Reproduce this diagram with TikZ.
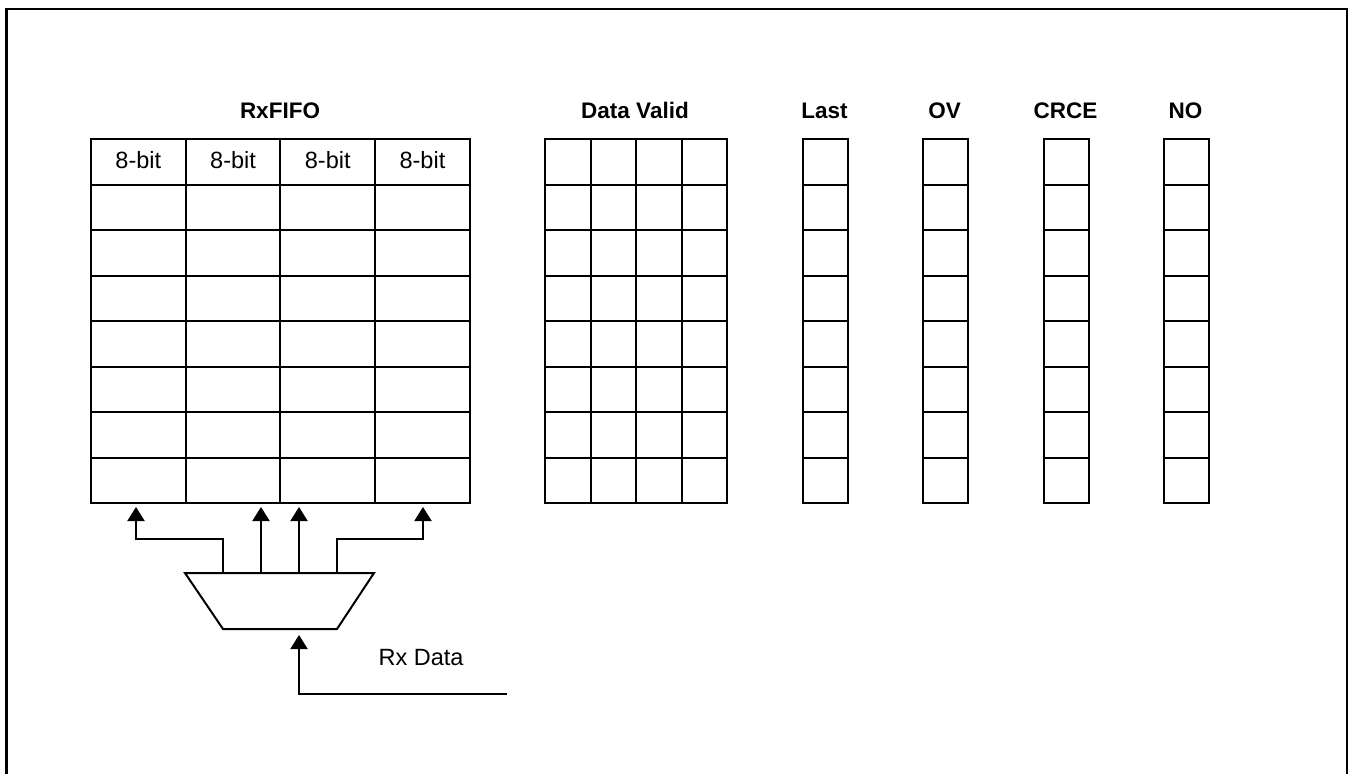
\documentclass[tikz,border=0pt]{standalone}
\usepackage{fontspec}
\setmainfont{Liberation Sans}
\usetikzlibrary{arrows.meta}
\begin{document}
\begin{tikzpicture}[x=1pt,y=-1pt,
  cell/.style={draw,line width=2pt,inner sep=0pt,anchor=north west,minimum height=45.5pt},
  ttl/.style={font=\fontsize{22.5}{26}\selectfont\bfseries,anchor=base,inner sep=0pt},
  lbl/.style={font=\fontsize{23.5}{28}\selectfont,inner sep=0pt,anchor=base},
  wire/.style={line width=2pt},
  arr/.style={wire,-{Triangle[width=17pt,length=14pt]}}]
\useasboundingbox (0,0) rectangle (1348,773);
\clip (0,0) rectangle (1348,773);
\draw[line width=2.8pt] (6.5,9) rectangle (1347.5,800);
% RxFIFO
\foreach \r in {1,...,8}{
  \foreach \c in {1,...,4}{
    \node[cell,minimum width=94.7pt] (f-\r-\c) at ({90+(\c-1)*94.7},{138+(\r-1)*45.5}) {};
  }
}
\foreach \c in {1,...,4}{
  \node[lbl] (b-\c) at ([yshift=-6.7pt]f-1-\c.center) {8-bit};
}
% Data valid
\foreach \r in {1,...,8}{
  \foreach \c in {1,...,4}{
    \node[cell,minimum width=45.5pt] (d-\r-\c) at ({544+(\c-1)*45.5},{138+(\r-1)*45.5}) {};
  }
}
% single columns
\foreach \n/\x in {l/802,o/922,c/1043,n/1163}{
  \foreach \r in {1,...,8}{
    \node[cell,minimum width=45pt] (\n-\r) at (\x,{138+(\r-1)*45.5}) {};
  }
}
% titles
\node[ttl] (t-fifo) at (280,118.3) {RxFIFO};
\node[ttl] (t-dv) at (635,118.3) {Data Valid};
\node[ttl] (t-last) at (824.5,118.3) {Last};
\node[ttl] (t-ov) at (944.5,118.3) {OV};
\node[ttl] (t-crce) at (1065.5,118.3) {CRCE};
\node[ttl] (t-no) at (1185.5,118.3) {NO};
% mux
\coordinate (mtl) at (185,573);
\coordinate (mtr) at (374,573);
\coordinate (mbr) at (337,629);
\coordinate (mbl) at (223,629);
\draw[wire,line join=miter] (mtl) -- (mtr) -- (mbr) -- (mbl) -- cycle;
\coordinate (o1) at (223,573);
\coordinate (o2) at (261,573);
\coordinate (o3) at (299,573);
\coordinate (o4) at (337,573);
\coordinate (a1) at (136,507);
\coordinate (a2) at (261,507);
\coordinate (a3) at (299,507);
\coordinate (a4) at (423,507);
\draw[arr] (o1) -- ++(0,-34) -| (a1);
\draw[arr] (o2) -- (a2);
\draw[arr] (o3) -- (a3);
\draw[arr] (o4) -- ++(0,-34) -| (a4);
\coordinate (rxin) at (507,694);
\coordinate (mi) at (299,635);
\draw[arr] (rxin) -| (mi);
\node[lbl] (rxl) at (421,665) {Rx Data};
\end{tikzpicture}
\end{document}
